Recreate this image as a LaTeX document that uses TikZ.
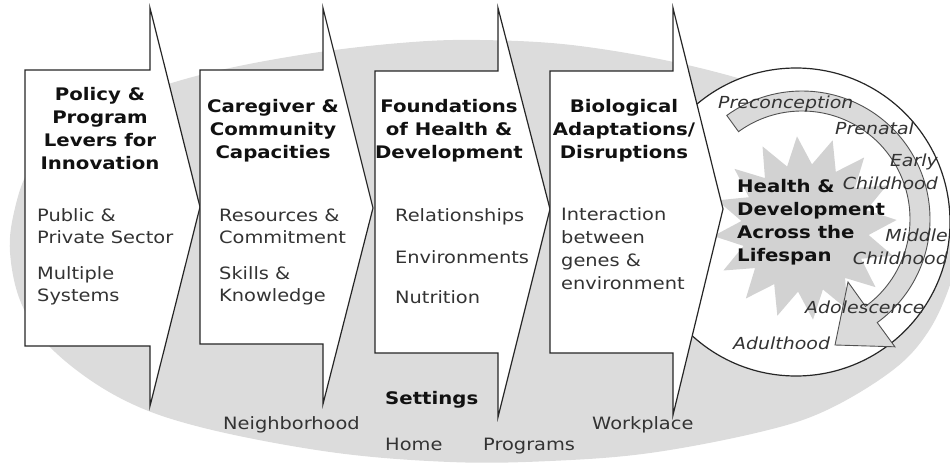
\documentclass[tikz,border=0pt]{standalone}
\usepackage{fontspec}
\setmainfont{DejaVu Sans}[FakeStretch=1.14]
\definecolor{bggray}{HTML}{DCDCDC}
\definecolor{stargray}{HTML}{D2D2D2}
\definecolor{bandgray}{HTML}{DADADA}
\definecolor{linec}{HTML}{262626}
\definecolor{titlec}{HTML}{111111}
\definecolor{bodyc}{HTML}{333333}
\tikzset{
  outline/.style={draw=linec, line width=1.2pt, line join=miter},
  stagebox/.style={outline, fill=white},
  title/.style={font=\fontsize{17.3}{22.7}\selectfont\bfseries, text=titlec, align=center, inner sep=0pt, anchor=base},
  body/.style={font=\fontsize{17}{21.3}\selectfont, text=bodyc, align=left, inner sep=0pt, anchor=base west},
  stage/.style={font=\fontsize{16.6}{20}\selectfont\itshape, text=bodyc, inner sep=0pt},
  setting/.style={font=\fontsize{17}{20}\selectfont, text=bodyc, inner sep=0pt, anchor=base west},
}
\begin{document}
\begin{tikzpicture}[x=1pt,y=-1pt]
\useasboundingbox (0,0) rectangle (950,466);
% background ellipse
\fill[bggray] plot[smooth cycle, tension=0.6] coordinates {
 (10,252) (15,208) (30,168) (62,133) (115,103) (200,75) (300,55) (400,43) (480,40)
 (580,46) (700,68) (800,100) (890,150) (945,200) (958,245) (950,285) (928,332)
 (893,370) (827,410) (760,432) (650,453) (550,461) (450,462) (330,452) (200,427)
 (120,398) (55,352) (22,305)};
% lifespan circle
\draw[outline, fill=white] (796,222) circle[radius=154pt];
% starburst
\fill[stargray] (805,228) ++(-95:92) \foreach \k in {1,...,31} { -- ({805+ifthenelse(isodd(\k),64,92)*cos(-95+\k*11.25)},{228+ifthenelse(isodd(\k),64,92)*sin(-95+\k*11.25)}) } -- cycle;
% curved lifespan arrow
\filldraw[fill=bandgray, draw=linec!80, line width=0.9pt, line join=miter]
  plot[domain=-126:54, samples=90] ({802+128*cos(\x)},{219+128*sin(\x)})
  -- (894.9,346.8) -- (835,345) -- (848,282)
  -- plot[domain=54:-126, samples=90] ({802+108*cos(\x)},{219+108*sin(\x)}) -- cycle;
% stage arrows
\draw[stagebox] (25,70) -- (150,70) -- (150,8) -- (200,207) -- (150,406) -- (150,346) -- (25,346) -- cycle;
\draw[stagebox] (200,70) -- (323,70) -- (323,8) -- (373,208) -- (323,404) -- (323,344) -- (200,344) -- cycle;
\draw[stagebox] (375,71) -- (498,71) -- (498,8) -- (550,209) -- (498,417) -- (498,353) -- (375,353) -- cycle;
\draw[stagebox] (550,71) -- (673,71) -- (673,8) -- (723,209) -- (673,415) -- (673,353) -- (550,353) -- cycle;
% arrow texts (base anchor = baseline of last line)
\node[title] (t1) at (100,169) {Policy \&\\Program\\Levers for\\Innovation};
\node[body] (b1a) at (37,243) {Public \&\\Private Sector};
\node[body] (b1b) at (37,301) {Multiple\\Systems};
\node[title] (t2) at (273,158) {Caregiver \&\\Community\\Capacities};
\node[body] (b2a) at (219,243) {Resources \&\\Commitment};
\node[body] (b2b) at (219,301) {Skills \&\\Knowledge};
\node[title] (t3) at (449,158) {Foundations\\of Health \&\\Development};
\node[body] (b3a) at (395,221) {Relationships};
\node[body] (b3b) at (395,263) {Environments};
\node[body] (b3c) at (395,303) {Nutrition};
\node[title] (t4) at (624,158) {Biological\\Adaptations/\\Disruptions};
\node[body, font=\fontsize{17}{22.7}\selectfont] (b4) at (561,289) {Interaction\\between\\genes \&\\environment};
% circle texts
\node[title, font=\fontsize{17.3}{23}\selectfont\bfseries, align=left, anchor=base west] (hd) at (737,261) {Health \&\\Development\\Across the\\Lifespan};
\node[stage, anchor=base west] (s1) at (718,108) {Preconception};
\node[stage, anchor=base west] (s2) at (835,134) {Prenatal};
\node[stage, anchor=base east] (s3) at (938,166) {Early};
\node[stage, anchor=base east] (s4) at (938,189) {Childhood};
\node[stage, anchor=base east] (s5) at (948,241) {Middle};
\node[stage, anchor=base east] (s6) at (948,264) {Childhood};
\node[stage, anchor=base west] (s7) at (805,313) {Adolescence};
\node[stage, anchor=base west] (s8) at (733,349) {Adulthood};
% settings
\node[setting, font=\fontsize{17.3}{20}\selectfont\bfseries, text=titlec] (set) at (385,404) {Settings};
\node[setting] (nb) at (223,429) {Neighborhood};
\node[setting] (wp) at (592,429) {Workplace};
\node[setting] (hm) at (385,450) {Home};
\node[setting] (pg) at (483,450) {Programs};
\end{tikzpicture}
\end{document}
